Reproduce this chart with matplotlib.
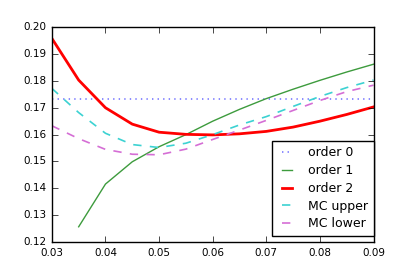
import numpy as np
import matplotlib
matplotlib.use('Agg')
import matplotlib.pyplot as plt

plt.style.use('classic')

x = [0.03, 0.035, 0.04, 0.045, 0.05, 0.055, 0.06, 0.065, 0.07, 0.075, 0.08, 0.085, 0.09]
order0 = [0.1733] * len(x)
x1 = x[1:]
order1 = [0.1257, 0.1416, 0.1499, 0.1555, 0.1600, 0.1650, 0.1694, 0.1734, 0.1769, 0.1802, 0.1833, 0.1862]
order2 = [0.1958, 0.1803, 0.1700, 0.1639, 0.1609, 0.1601, 0.1599, 0.1603, 0.1612, 0.1628, 0.1650, 0.1675, 0.1703]
mc_upper = [0.1772, 0.1682, 0.1605, 0.1563, 0.1552, 0.1568, 0.1600, 0.1636, 0.1667, 0.1705, 0.1742, 0.1775, 0.1803]
mc_lower = [0.1633, 0.1585, 0.1545, 0.1527, 0.1525, 0.1546, 0.1582, 0.1617, 0.1653, 0.1690, 0.1727, 0.1760, 0.1784]

fig = plt.figure(figsize=(4.15, 2.77), dpi=100, facecolor='white')
ax = fig.add_axes([0.125, 0.126, 0.775, 0.776])

ax.plot(x, order0, ':', color='#7878ff', lw=1.2, label='order 0')
ax.plot(x1, order1, '-', color='#3d9b3d', lw=1, label='order 1')
ax.plot(x, order2, '-', color='red', lw=2, label='order 2')
ax.plot(x, mc_upper, '--', color='#3cd2d2', lw=1.2, label='MC upper')
ax.plot(x, mc_lower, '--', color='#d56ed5', lw=1.2, label='MC lower')

ax.set_xlim(0.03, 0.09)
ax.set_ylim(0.12, 0.20)
ax.set_xticks(np.arange(0.03, 0.0901, 0.01))
ax.set_yticks(np.arange(0.12, 0.2001, 0.01))
ax.set_yticklabels(['%.2f' % v for v in np.arange(0.12, 0.2001, 0.01)])
ax.tick_params(labelsize=7.5, length=4)

ax.legend(loc='lower right', bbox_to_anchor=(1.0, 0.028), borderaxespad=0,
          fontsize=9, fancybox=False, handlelength=1.45, handletextpad=0.95,
          labelspacing=0.38, borderpad=0.45)

fig.savefig('out.png', dpi=100, facecolor='white')
